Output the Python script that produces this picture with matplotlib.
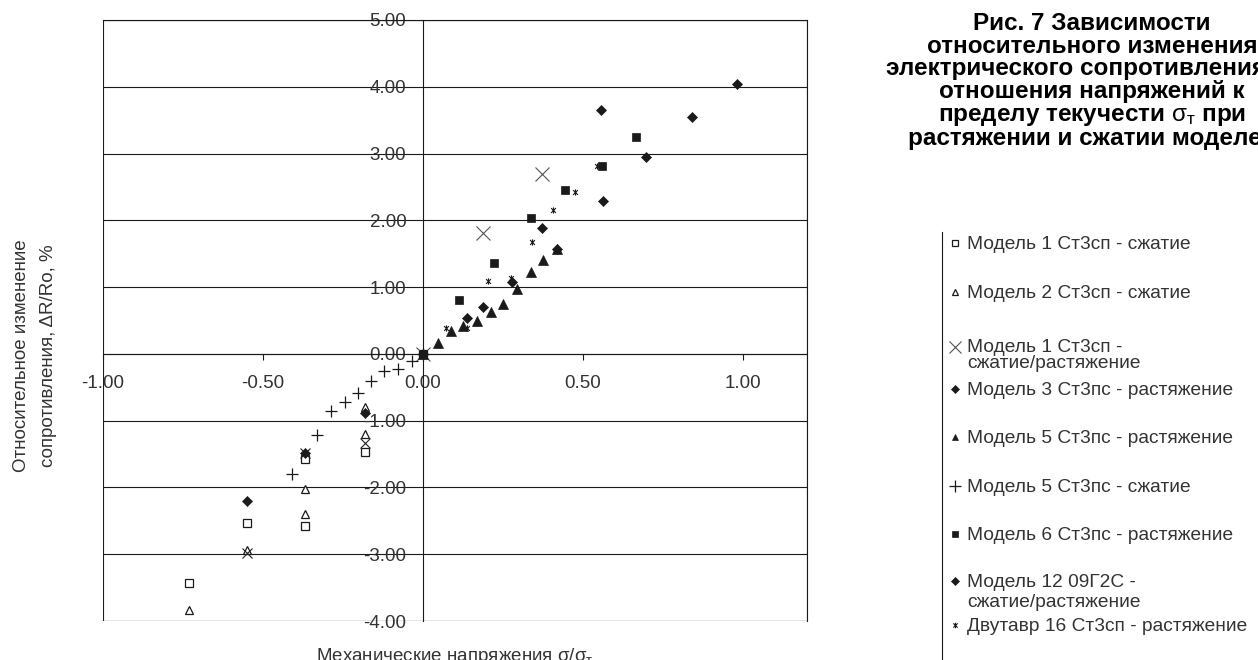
import matplotlib
matplotlib.use("Agg")
import matplotlib.pyplot as plt
from matplotlib.lines import Line2D
from matplotlib.path import Path
from matplotlib.patches import Rectangle
from matplotlib.ticker import FormatStrFormatter, MultipleLocator

plt.rcParams['font.family'] = ['Liberation Sans', 'DejaVu Sans']
plt.rcParams['mathtext.fontset'] = 'custom'
plt.rcParams['mathtext.rm'] = 'Liberation Sans'
plt.rcParams['mathtext.it'] = 'Liberation Sans:italic'
plt.rcParams['mathtext.bf'] = 'Liberation Sans:bold'
plt.rcParams['axes.unicode_minus'] = False

# --- data (sigma/sigma_t, dR/Ro %) ---
m1_comp_x = [-0.73, -0.55, -0.37, -0.37, -0.18, 0.0]
m1_comp_y = [-3.43, -2.53, -1.57, -2.58, -1.47, 0.0]

m2_comp_x = [-0.73, -0.55, -0.37, -0.37, -0.18, -0.18, 0.0]
m2_comp_y = [-3.83, -2.93, -2.02, -2.40, -0.80, -1.20, 0.0]

m1_cycle_x = [-0.55, -0.37, -0.18, 0.0, 0.189, 0.373]
m1_cycle_y = [-2.98, -1.48, -1.33, 0.0, 1.81, 2.70]

m3_tens_x = [0.139, 0.279, 0.42, 0.555, 0.698, 0.84, 0.98]
m3_tens_y = [0.54, 1.07, 1.57, 3.65, 2.95, 3.54, 4.04]

m5_tens_x = [0.0, 0.046, 0.087, 0.124, 0.170, 0.212, 0.251, 0.293, 0.336, 0.376, 0.42]
m5_tens_y = [0.0, 0.17, 0.34, 0.42, 0.50, 0.62, 0.74, 0.97, 1.22, 1.41, 1.57]

m5_comp_x = [-0.41, -0.33, -0.287, -0.245, -0.203, -0.162, -0.121, -0.079, -0.035, 0.0]
m5_comp_y = [-1.80, -1.22, -0.86, -0.72, -0.58, -0.41, -0.25, -0.22, -0.10, 0.0]

m6_tens_x = [0.0, 0.113, 0.222, 0.336, 0.445, 0.558, 0.667]
m6_tens_y = [0.0, 0.80, 1.36, 2.03, 2.45, 2.82, 3.25]

m12_x = [-0.55, -0.37, -0.18, 0.0, 0.189, 0.373, 0.562]
m12_y = [-2.20, -1.48, -0.88, 0.0, 0.70, 1.89, 2.29]

beam_x = [0.0, 0.072, 0.139, 0.204, 0.276, 0.342, 0.407, 0.4735, 0.544]
beam_y = [0.0, 0.39, 0.39, 1.09, 1.13, 1.67, 2.16, 2.43, 2.82]

legend_labels = [
    ["Модель 1 Ст3сп - сжатие"],
    ["Модель 2 Ст3сп - сжатие"],
    ["Модель 1 Ст3сп -", "сжатие/растяжение"],
    ["Модель 3 Ст3пс - растяжение"],
    ["Модель 5 Ст3пс - растяжение"],
    ["Модель 5 Ст3пс - сжатие"],
    ["Модель 6 Ст3пс - растяжение"],
    ["Модель 12 09Г2С -", "сжатие/растяжение"],
    ["Двутавр 16 Ст3сп - растяжение"],
]

title_lines = [
    "Рис. 7 Зависимости",
    "относительного изменения",
    "электрического сопротивления от",
    "отношения напряжений к",
    r"пределу текучести $\mathrm{\sigma}_\mathrm{т}$ при",
    "растяжении и сжатии моделей",
]

W, H = 1258, 660
INK = '#1a1a1a'
TXT = '#333333'


def fx(p):
    return p / W


def fy(p):
    return 1 - p / H


# asterisk-like marker (x with a vertical bar)
star = Path([(-1, -1), (1, 1), (-1, 1), (1, -1), (0, -1.3), (0, 1.3)],
            [Path.MOVETO, Path.LINETO] * 3)

styles = [
    dict(marker='s', ms=5.5, mfc='white', mec=INK, mew=0.9),
    dict(marker='^', ms=6, mfc='white', mec=INK, mew=0.9),
    dict(marker='x', ms=9.5, mfc='none', mec='#555555', mew=0.8),
    dict(marker='D', ms=5, mfc=INK, mec=INK, mew=0.5),
    dict(marker='^', ms=6.5, mfc=INK, mec=INK, mew=0.5),
    dict(marker='+', ms=8, mfc='none', mec=INK, mew=0.9),
    dict(marker='s', ms=5.5, mfc=INK, mec=INK, mew=0.5),
    dict(marker='D', ms=4.6, mfc=INK, mec=INK, mew=0.5),
    dict(marker=star, ms=4.5, mfc='none', mec=INK, mew=0.8),
]
data = [
    (m1_comp_x, m1_comp_y), (m2_comp_x, m2_comp_y), (m1_cycle_x, m1_cycle_y),
    (m3_tens_x, m3_tens_y), (m5_tens_x, m5_tens_y), (m5_comp_x, m5_comp_y),
    (m6_tens_x, m6_tens_y), (m12_x, m12_y), (beam_x, beam_y),
]

fig = plt.figure(figsize=(W / 100, H / 100), dpi=100)
ax = fig.add_axes([fx(103), fy(621), fx(807) - fx(103), fy(20) - fy(621)])

for i, ((xs, ys), st) in enumerate(zip(data, styles)):
    if i == 2:
        # the compression points of this series are drawn smaller and darker
        neg = [(x, y) for x, y in zip(xs, ys) if x < 0]
        pos = [(x, y) for x, y in zip(xs, ys) if x >= 0]
        small = dict(st, ms=6.5, mec='#222222')
        ax.plot([p[0] for p in neg], [p[1] for p in neg], linestyle='none',
                clip_on=False, **small)
        ax.plot([p[0] for p in pos], [p[1] for p in pos], linestyle='none',
                clip_on=False, **st)
    else:
        ax.plot(xs, ys, linestyle='none', clip_on=False, **st)

ax.set_xlim(-1.0, 1.2)
ax.set_ylim(-4.0, 5.0)
ax.yaxis.set_major_locator(MultipleLocator(1.0))
ax.xaxis.set_major_formatter(FormatStrFormatter('%.2f'))
ax.yaxis.set_major_formatter(FormatStrFormatter('%.2f'))
ax.set_xticks([-1.0, -0.5, 0.0, 0.5, 1.0])

ax.spines['left'].set_position(('data', 0))
ax.spines['bottom'].set_position(('data', 0))
for s in ax.spines.values():
    s.set_color(INK)
    s.set_linewidth(0.8)
ax.add_patch(Rectangle((0, 0), 1, 1, transform=ax.transAxes, fill=False,
                       edgecolor=INK, linewidth=0.8, zorder=0.5))
ax.yaxis.grid(True, color=INK, linewidth=0.8)
ax.set_axisbelow(True)

ax.tick_params(axis='y', length=0, pad=12, labelsize=13.5, labelcolor=TXT)
ax.tick_params(axis='x', direction='out', length=4, width=0.8, color=INK,
               pad=11, labelsize=13.5, labelcolor=TXT)

# axis titles (the x title is cut by the bottom edge, as in the original)
fig.text(fx(455), fy(661), r"Механические напряжения σ/σ$_\mathrm{т}$",
         ha='center', va='baseline', fontsize=13.5, color=TXT)
fig.text(fx(26), fy(356), "Относительное изменение", rotation=90,
         rotation_mode='anchor', ha='center', va='baseline', fontsize=13.5,
         color=TXT)
fig.text(fx(53), fy(356), "сопротивления, ΔR/Ro, %", rotation=90,
         rotation_mode='anchor', ha='center', va='baseline', fontsize=13.5,
         color=TXT)

# figure caption on the right (runs off the edge like the original)
fig.text(fx(1092), fy(12), "\n".join(title_lines), ha='center', va='top',
         multialignment='center', linespacing=0.98, fontsize=17.5,
         fontweight='bold', color='black')

# legend drawn by hand, Excel-style
fig.add_artist(Line2D([fx(942), fx(942)], [fy(232), fy(660)], color=INK,
                      linewidth=0.8, transform=fig.transFigure))
legend_base = [[249], [298.3], [352.5, 368.5], [395], [443.3], [491.7], [540],
               [587.3, 606.7], [631]]
legend_ms = [4.2, 4.5, 8, 4, 4.6, 8, 4.2, 4, 4]
for labels, bases, st, ms in zip(legend_labels, legend_base, styles, legend_ms):
    key = dict(st)
    key['ms'] = ms
    fig.add_artist(Line2D([fx(955)], [fy(bases[0] - 6)], linestyle='none',
                          transform=fig.transFigure, **key))
    for txt, b in zip(labels, bases):
        fig.text(fx(967), fy(b), txt, ha='left', va='baseline',
                 fontsize=13.8, color=TXT)

fig.savefig('out.png', dpi=100)
